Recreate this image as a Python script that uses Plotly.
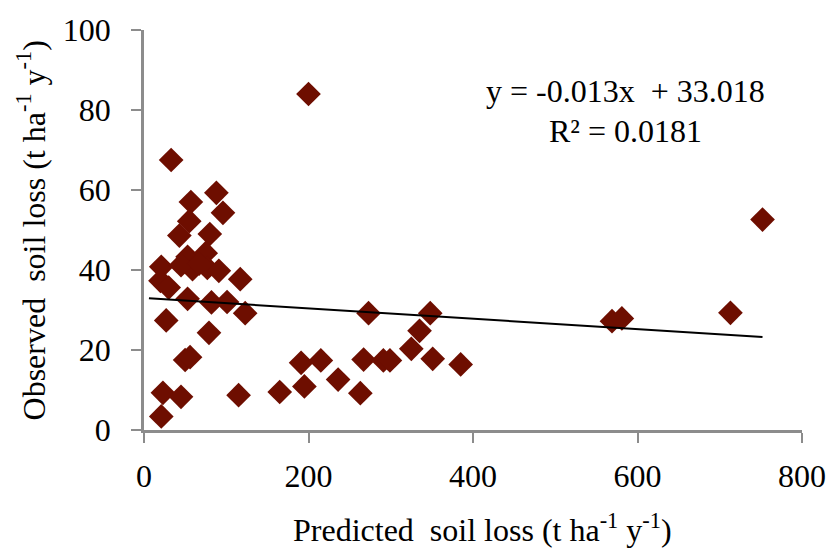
import plotly.graph_objects as go

# Data
predicted = [200, 33, 88, 57, 96, 55, 43, 80, 21, 53, 75, 59, 77, 91, 45, 67, 20, 30, 117,
             53, 82, 101, 123, 27, 79, 50, 56, 23, 45, 21, 115, 165, 191, 195, 215, 236,
             263, 267, 291, 299, 325, 335, 273, 348, 351, 385, 569, 581, 713, 752]
observed = [84, 67.5, 59.3, 57, 54.3, 52.2, 48.6, 49, 40.8, 43.3, 44.2, 40.2, 40.5, 39.8,
            41.2, 41.6, 37.3, 35.6, 37.7, 32.8, 31.9, 32, 29.2, 27.4, 24.3, 17.5, 18.2,
            9.3, 8.3, 3.4, 8.7, 9.5, 16.8, 10.9, 17.4, 12.6, 9.2, 17.6, 17.4, 17.4, 20.3,
            24.8, 29.2, 29.2, 17.8, 16.4, 27.2, 27.9, 29.3, 52.6]

slope = -0.013
intercept = 33.018
trend_x = [6, 752]
trend_y = [slope * v + intercept for v in trend_x]

x_ticks = [0, 200, 400, 600, 800]
y_ticks = [0, 20, 40, 60, 80, 100]

FONT = "Liberation Serif"
FS = 32

fig = go.Figure()
fig.add_trace(go.Scatter(
    x=predicted, y=observed, mode="markers",
    marker=dict(symbol="diamond", size=19, color="#6E0E00", line=dict(width=0)),
    showlegend=False, cliponaxis=False))
fig.add_trace(go.Scatter(
    x=trend_x, y=trend_y, mode="lines",
    line=dict(color="black", width=2), showlegend=False))

fig.update_layout(
    width=838, height=549,
    margin=dict(l=144, r=27, t=28, b=119),
    paper_bgcolor="white", plot_bgcolor="white",
    font=dict(family=FONT, size=FS, color="black"),
)
fig.update_xaxes(
    range=[0, 800], tickvals=x_ticks, showgrid=False, zeroline=False,
    showline=True, linecolor="#8c8c8c", linewidth=2.5,
    ticks="outside", ticklen=10, tickwidth=2, tickcolor="#8c8c8c",
    tickfont=dict(family=FONT, size=FS), ticklabelstandoff=6)
fig.update_yaxes(
    range=[0, 100], tickvals=y_ticks, showgrid=False, zeroline=False,
    showline=True, linecolor="#8c8c8c", linewidth=2.5,
    ticks="outside", ticklen=10, tickwidth=2, tickcolor="#8c8c8c",
    tickfont=dict(family=FONT, size=FS), ticklabelstandoff=14)

fig.add_annotation(
    text="Predicted  soil loss (t ha<sup>-1</sup> y<sup>-1</sup>)",
    xref="paper", yref="paper", x=0.515, y=-0.245, yanchor="middle",
    showarrow=False, font=dict(family=FONT, size=FS))
fig.add_annotation(
    text="Observed  soil loss (t ha<sup>-1</sup> y<sup>-1</sup>)",
    xref="paper", yref="paper", x=-0.171, y=0.5, textangle=-90,
    xanchor="center", yanchor="middle",
    showarrow=False, font=dict(family=FONT, size=FS))
fig.add_annotation(
    text="y = -0.013x  + 33.018", xref="x", yref="y", x=585, y=84.8,
    showarrow=False, font=dict(family=FONT, size=FS))
fig.add_annotation(
    text="R² = 0.0181", xref="x", yref="y", x=585, y=74.8,
    showarrow=False, font=dict(family=FONT, size=FS))

fig.write_html("out.html")
